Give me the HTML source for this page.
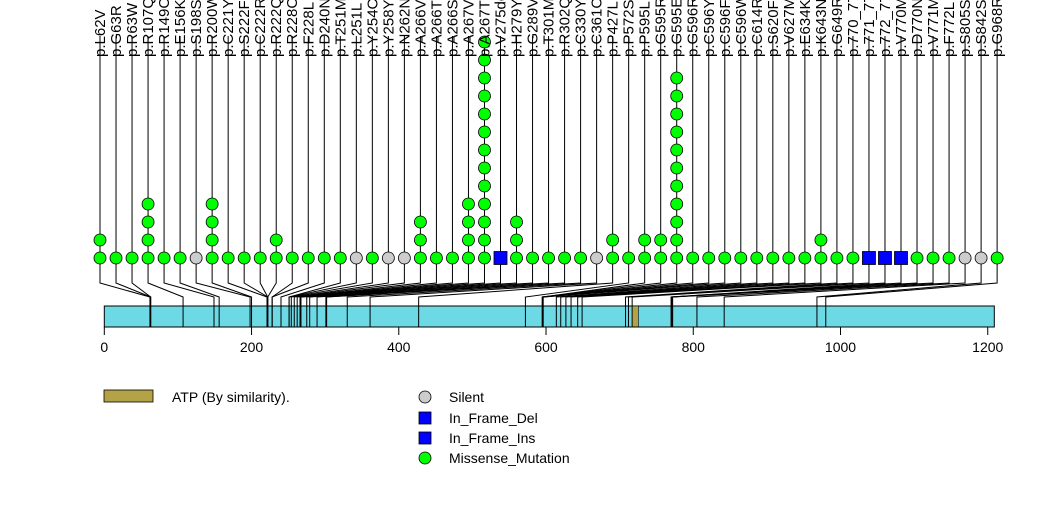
<!DOCTYPE html>
<html><head><meta charset="utf-8"><style>
body{margin:0;background:#fff}
svg{display:block;font-family:"Liberation Sans",sans-serif}
</style></head><body>
<svg id="chart" width="1047" height="524" viewBox="0 0 1047 524" xmlns="http://www.w3.org/2000/svg">
<g id="links"></g>
<rect x="104.3" y="306" width="890" height="21" fill="#6cd9e5" stroke="#000" stroke-width="1"/>
<g id="inbar"></g>
<rect x="632.3" y="306" width="6" height="21" fill="#b3a346" stroke="#000" stroke-width="0.6"/>
<g id="axis"></g>
<g id="dots"></g>
<g id="labels"></g>
<g>
<rect x="104" y="390" width="49" height="12" fill="#b3a346" stroke="#000" stroke-width="0.8"/>
<text x="172" y="402" font-size="14">ATP (By similarity).</text>
<circle cx="425" cy="397" r="6" fill="#cccccc" stroke="#000" stroke-width="0.8"/>
<text x="449" y="402" font-size="14">Silent</text>
<rect x="419" y="412" width="12" height="12" fill="#0000ff" stroke="#000" stroke-width="0.8"/>
<text x="449" y="423" font-size="14">In_Frame_Del</text>
<rect x="419" y="432" width="12" height="12" fill="#0000ff" stroke="#000" stroke-width="0.8"/>
<text x="449" y="443" font-size="14">In_Frame_Ins</text>
<circle cx="425" cy="458" r="6" fill="#00ff00" stroke="#000" stroke-width="0.8"/>
<text x="449" y="463" font-size="14">Missense_Mutation</text>
</g>
</svg>
<script>
const positions=[62,63,63,107,149,156,198,200,221,222,222,222,228,228,240,251,251,254,258,262,266,266,266,267,267,275,279,289,301,302,330,361,427,572,595,595,595,596,596,596,614,620,627,634,643,649,708,712,717,770,770,771,772,805,842,968,980];
const counts=[2,1,1,4,1,1,1,4,1,1,1,2,1,1,1,1,1,1,1,1,3,1,1,4,13,1,3,1,1,1,1,1,2,1,2,2,11,1,1,1,1,1,1,1,1,2,1,1,1,1,1,1,1,1,1,1,1];
const types=["M","M","M","M","M","M","S","M","M","M","M","M","M","M","M","M","S","M","S","S","M","M","M","M","M","D","M","M","M","M","M","S","M","M","M","M","M","M","M","M","M","M","M","M","M","M","M","M","D","D","D","M","M","M","S","S","M"];
const labelLetters=["L62V","G63R","R63W","R107Q","R149C","E156K","S198S","R200W","C221Y","S222F","C222R","R222Q","R228C","F228L","D240N","T251M","L251L","Y254C","Y258Y","N262N","A266V","A266T","A266S","A267V","A267T","V275del","H279Y","G289V","T301M","R302Q","C330Y","C361C","P427L","P572S","P595L","G595R","G595E","G596R","C596Y","C596F","C596W","C614R","S620F","V627M","E634K","K643N","G649R","770_771ins","771_772ins","772_773ins","V770M","D770N","V771M","F772L","S805S","S842S","G968R"];
const axisTicks=[0,200,400,600,800,1000,1200];
const NS="http://www.w3.org/2000/svg";
const x0=104.3,k=0.7362;
function xs(aa){return x0+aa*k;}
function lx(i){return 100+i*16.02;}
function yd(j){return 258-j*18;}
function mk(t,a,p){const e=document.createElementNS(NS,t);for(const q in a)e.setAttribute(q,a[q]);p.appendChild(e);return e;}
const links=document.getElementById('links'),inbar=document.getElementById('inbar'),dots=document.getElementById('dots'),labels=document.getElementById('labels'),axis=document.getElementById('axis');
positions.forEach((p,i)=>{
  const x=lx(i),px=xs(p);
  const pl=mk('polyline',{points:`${x},36 ${x},283 ${px},297 ${px},306`,fill:'none',stroke:'#000','stroke-width':1},links);
  
  
  const bl=mk('line',{x1:px,y1:306,x2:px,y2:327,stroke:'#000','stroke-width':1},inbar);
  
  
  for(let j=0;j<counts[i];j++){
    const y=yd(j);let e;
    if(types[i]==='D'){e=mk('rect',{x:x-6.5,y:y-6.5,width:13,height:13,fill:'#0000ff',stroke:'#000','stroke-width':0.8},dots);}
    else{e=mk('circle',{cx:x,cy:y,r:6,fill:types[i]==='S'?'#cccccc':'#00ff00',stroke:'#000','stroke-width':0.8},dots);}
    
    
  }
  const t=mk('text',{x:0,y:0,'font-size':15,transform:`translate(${x+5},57) rotate(-90)`},labels);
  t.textContent='p.'+labelLetters[Math.min(i,labelLetters.length-1)];
  
  
});
const al=mk('line',{x1:xs(0),y1:327,x2:xs(1200),y2:327,stroke:'#000'},axis);


axisTicks.forEach(v=>{
  const tk=mk('line',{x1:xs(v),y1:327,x2:xs(v),y2:335,stroke:'#000'},axis);
  
  
  const tl=mk('text',{x:xs(v),y:352,'font-size':14,'text-anchor':'middle'},axis);
  tl.textContent=v;
  
  
});
</script>
</body></html>
